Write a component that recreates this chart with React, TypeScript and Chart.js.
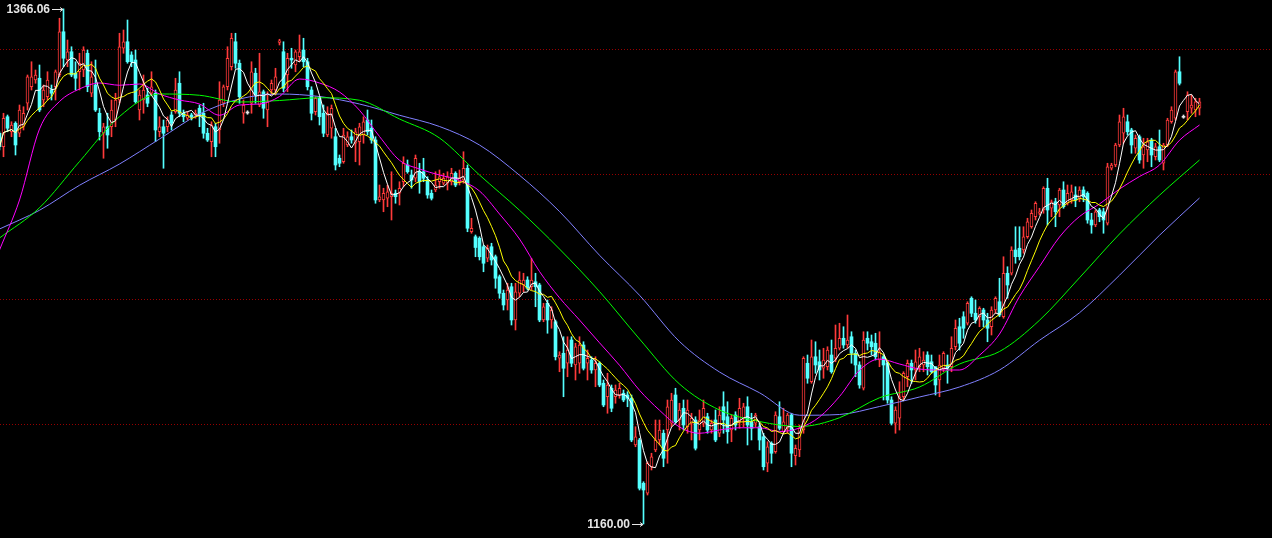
import React, { useEffect, useRef } from "react";
import { Chart, registerables } from "chart.js";

Chart.register(...registerables);

// ---- candle data (index 0..300) ----
const opens = [
  1316.3, 1310.9, 1322.9, 1316.9, 1320.3, 1316.3, 1319.0, 1328.3, 1334.9, 1337.6,
  1338.3, 1329.6, 1330.9, 1333.6, 1334.9, 1339.6, 1356.9, 1345.6, 1348.9, 1340.3,
  1340.9, 1341.6, 1348.3, 1332.3, 1335.6, 1324.3, 1316.3, 1318.9, 1318.9, 1321.6,
  1329.6, 1350.3, 1352.9, 1347.6, 1345.6, 1325.6, 1329.6, 1331.6, 1332.3, 1332.3,
  1316.9, 1318.9, 1318.9, 1323.6, 1324.9, 1336.3, 1324.3, 1322.3, 1323.6, 1323.6,
  1326.3, 1324.3, 1316.3, 1312.9, 1318.9, 1317.6, 1328.3, 1334.9, 1342.9, 1352.9,
  1344.3, 1324.3, 1324.6, 1328.3, 1340.3, 1327.6, 1332.9, 1325.6, 1333.6, 1333.6,
  1352.6, 1348.9, 1339.6, 1346.3, 1343.6, 1346.9, 1349.6, 1344.9, 1333.6, 1324.9,
  1330.3, 1324.3, 1315.6, 1318.3, 1314.9, 1306.3, 1304.9, 1311.6, 1314.9, 1312.3,
  1312.9, 1315.6, 1321.6, 1318.3, 1313.6, 1289.6, 1289.6, 1290.3, 1290.9, 1292.3,
  1292.3, 1296.9, 1303.6, 1299.6, 1298.3, 1300.9, 1300.9, 1297.6, 1292.3, 1293.6,
  1296.9, 1296.3, 1296.3, 1296.9, 1300.3, 1296.9, 1297.6, 1302.3, 1276.9, 1274.9,
  1274.3, 1270.9, 1266.3, 1270.9, 1266.9, 1258.9, 1252.3, 1249.6, 1254.9, 1241.6,
  1252.3, 1255.6, 1257.6, 1254.9, 1256.9, 1255.6, 1241.6, 1248.3, 1241.6, 1240.9,
  1226.3, 1228.3, 1224.3, 1233.6, 1223.6, 1224.3, 1231.6, 1224.3, 1225.6, 1221.6,
  1224.3, 1216.3, 1210.9, 1214.3, 1210.9, 1211.6, 1212.3, 1211.6, 1210.3, 1191.6,
  1193.6, 1176.3, 1172.3, 1182.9, 1189.6, 1193.6, 1196.3, 1197.6, 1200.3, 1211.6,
  1201.6, 1206.3, 1198.9, 1200.3, 1201.6, 1197.6, 1200.3, 1202.9, 1197.6, 1201.6,
  1196.3, 1206.9, 1202.9, 1197.6, 1203.6, 1200.9, 1202.3, 1206.9, 1200.9, 1200.3,
  1198.9, 1194.9, 1184.3, 1192.3, 1188.9, 1202.9, 1196.9, 1198.3, 1203.6, 1187.3,
  1189.6, 1197.6, 1224.3, 1216.9, 1226.9, 1224.9, 1222.3, 1222.9, 1227.6, 1226.3,
  1230.3, 1234.3, 1231.6, 1234.9, 1228.3, 1223.6, 1214.3, 1234.3, 1232.9, 1232.3,
  1225.6, 1226.9, 1224.3, 1209.6, 1200.3, 1202.3, 1210.9, 1218.9, 1224.3, 1221.6,
  1222.9, 1223.6, 1227.6, 1224.9, 1222.9, 1217.6, 1222.3, 1223.6, 1222.9, 1230.9,
  1238.9, 1242.9, 1240.3, 1250.3, 1244.3, 1242.9, 1245.6, 1241.6, 1238.9, 1245.6,
  1248.9, 1242.9, 1260.3, 1260.3, 1269.6, 1270.3, 1269.6, 1274.9, 1278.9, 1282.9,
  1284.3, 1285.6, 1294.3, 1286.3, 1288.9, 1287.6, 1293.6, 1288.3, 1289.6, 1291.6,
  1290.3, 1293.6, 1292.3, 1281.6, 1279.6, 1285.6, 1284.9, 1280.3, 1302.3, 1303.6,
  1311.6, 1316.3, 1320.9, 1317.6, 1310.3, 1314.9, 1307.6, 1309.6, 1313.6, 1306.9,
  1310.9, 1304.3, 1311.6, 1320.9, 1322.3, 1340.9, 1322.9, 1324.9, 1326.3, 1325.6,
  1326.3,
];

const highs = [
  1316.9, 1324.3, 1323.6, 1320.9, 1320.9, 1327.6, 1326.9, 1339.6, 1344.9, 1341.6,
  1343.6, 1335.6, 1340.9, 1335.6, 1341.6, 1362.3, 1366.06, 1353.6, 1350.9, 1344.9,
  1348.3, 1350.9, 1349.6, 1344.9, 1345.6, 1326.3, 1320.3, 1324.3, 1329.6, 1332.3,
  1356.3, 1357.6, 1361.6, 1348.9, 1349.6, 1333.6, 1339.6, 1334.3, 1340.9, 1333.6,
  1322.9, 1321.6, 1322.9, 1324.9, 1338.3, 1340.9, 1325.6, 1324.9, 1324.3, 1325.6,
  1327.6, 1328.3, 1318.3, 1320.9, 1320.3, 1336.9, 1335.6, 1350.9, 1356.3, 1356.3,
  1345.6, 1329.6, 1325.3, 1344.9, 1342.3, 1348.3, 1333.6, 1332.9, 1337.6, 1342.3,
  1353.9, 1352.9, 1348.3, 1350.3, 1349.6, 1355.6, 1354.3, 1346.3, 1334.9, 1330.9,
  1330.9, 1327.6, 1326.9, 1327.6, 1318.3, 1307.6, 1318.3, 1316.9, 1317.6, 1318.3,
  1320.3, 1322.9, 1325.6, 1321.6, 1314.9, 1295.6, 1294.3, 1295.6, 1300.9, 1293.6,
  1296.9, 1306.9, 1305.6, 1301.6, 1307.6, 1304.3, 1306.3, 1298.9, 1293.6, 1300.9,
  1301.6, 1300.3, 1300.9, 1302.3, 1300.9, 1301.6, 1308.9, 1303.6, 1282.3, 1275.6,
  1274.9, 1271.6, 1271.6, 1272.3, 1267.6, 1259.6, 1253.6, 1256.3, 1256.3, 1256.3,
  1260.9, 1260.3, 1258.9, 1266.3, 1260.3, 1256.3, 1248.3, 1249.6, 1246.9, 1241.6,
  1228.9, 1234.9, 1234.9, 1234.9, 1232.3, 1234.9, 1232.9, 1229.6, 1226.9, 1226.9,
  1224.9, 1217.6, 1220.3, 1215.6, 1215.6, 1216.3, 1213.6, 1212.9, 1211.6, 1198.9,
  1194.3, 1176.9, 1184.9, 1188.3, 1201.6, 1201.6, 1197.6, 1209.6, 1212.3, 1214.3,
  1208.3, 1209.6, 1209.6, 1204.3, 1202.9, 1205.6, 1209.6, 1204.3, 1201.6, 1205.6,
  1206.9, 1212.9, 1208.9, 1203.6, 1204.9, 1210.3, 1208.3, 1210.9, 1204.3, 1204.3,
  1200.3, 1196.3, 1192.9, 1192.9, 1204.9, 1208.9, 1206.3, 1204.3, 1204.3, 1191.6,
  1199.6, 1226.9, 1227.6, 1233.6, 1232.9, 1229.6, 1230.3, 1230.9, 1233.6, 1239.6,
  1240.3, 1238.9, 1243.6, 1236.9, 1229.6, 1224.9, 1236.9, 1236.9, 1235.6, 1236.3,
  1236.9, 1227.6, 1224.9, 1210.9, 1206.9, 1216.9, 1220.9, 1225.6, 1225.6, 1229.6,
  1230.3, 1228.9, 1228.9, 1227.6, 1222.9, 1227.6, 1228.9, 1227.6, 1234.9, 1241.6,
  1242.3, 1244.9, 1248.9, 1250.9, 1249.6, 1246.9, 1246.3, 1244.3, 1246.9, 1250.9,
  1258.3, 1266.9, 1262.9, 1270.9, 1278.9, 1278.9, 1278.9, 1282.3, 1285.6, 1288.9,
  1286.3, 1294.9, 1298.3, 1289.6, 1290.3, 1294.3, 1296.9, 1295.6, 1295.6, 1294.9,
  1294.9, 1294.9, 1292.9, 1284.3, 1285.6, 1286.3, 1286.3, 1304.3, 1304.3, 1312.3,
  1323.6, 1326.3, 1323.6, 1318.3, 1315.6, 1315.6, 1314.3, 1314.3, 1314.3, 1312.3,
  1317.6, 1312.3, 1322.3, 1326.9, 1341.6, 1346.9, 1323.6, 1332.9, 1331.6, 1330.3,
  1330.3,
];

const lows = [
  1309.6, 1306.9, 1316.9, 1314.9, 1307.6, 1314.9, 1317.6, 1325.6, 1333.6, 1336.3,
  1324.9, 1326.9, 1329.6, 1329.6, 1329.6, 1338.9, 1342.9, 1342.9, 1338.9, 1333.6,
  1333.6, 1338.9, 1332.9, 1330.9, 1325.0, 1313.6, 1306.3, 1310.3, 1314.9, 1318.9,
  1328.3, 1348.3, 1344.3, 1342.9, 1328.3, 1321.6, 1324.3, 1326.9, 1331.6, 1312.9,
  1314.9, 1302.3, 1316.9, 1317.6, 1324.3, 1322.9, 1320.9, 1321.6, 1321.6, 1322.3,
  1318.9, 1314.3, 1313.0, 1306.9, 1306.9, 1312.3, 1326.9, 1333.6, 1341.6, 1342.3,
  1328.3, 1320.3, 1323.9, 1324.3, 1328.3, 1326.9, 1322.3, 1318.9, 1331.6, 1331.6,
  1351.6, 1332.9, 1332.9, 1342.3, 1340.9, 1344.9, 1342.9, 1333.6, 1321.6, 1323.6,
  1319.6, 1314.9, 1314.9, 1314.3, 1301.6, 1302.9, 1304.3, 1310.9, 1312.3, 1304.9,
  1303.6, 1312.3, 1315.6, 1312.3, 1288.3, 1288.9, 1284.9, 1286.9, 1281.6, 1288.3,
  1287.6, 1294.9, 1300.3, 1294.3, 1296.9, 1292.3, 1296.9, 1290.3, 1289.6, 1292.9,
  1294.3, 1295.6, 1293.6, 1295.6, 1294.9, 1295.6, 1296.3, 1276.9, 1276.3, 1266.9,
  1265.6, 1260.9, 1264.9, 1263.6, 1254.3, 1250.3, 1245.6, 1245.6, 1239.6, 1237.6,
  1250.9, 1252.9, 1253.6, 1253.6, 1246.9, 1240.9, 1240.9, 1236.3, 1238.3, 1225.6,
  1220.9, 1210.9, 1218.9, 1222.9, 1217.6, 1220.3, 1221.6, 1217.6, 1220.3, 1214.9,
  1214.9, 1206.9, 1204.3, 1204.9, 1208.3, 1210.3, 1208.9, 1206.9, 1192.9, 1190.9,
  1173.6, 1160.0, 1171.6, 1181.6, 1188.9, 1191.6, 1182.9, 1184.3, 1198.9, 1200.3,
  1197.6, 1197.6, 1196.3, 1193.6, 1189.6, 1193.6, 1198.9, 1196.3, 1196.3, 1192.9,
  1194.9, 1196.3, 1192.3, 1192.9, 1197.6, 1198.3, 1198.9, 1191.6, 1193.6, 1198.9,
  1189.6, 1181.6, 1180.9, 1184.3, 1188.3, 1197.6, 1196.3, 1196.3, 1182.9, 1183.6,
  1186.9, 1196.3, 1216.3, 1216.3, 1220.3, 1217.6, 1218.3, 1221.6, 1220.3, 1224.9,
  1229.6, 1230.3, 1230.3, 1224.3, 1218.9, 1214.3, 1213.6, 1229.6, 1227.6, 1225.6,
  1222.9, 1209.6, 1208.3, 1199.6, 1196.3, 1197.6, 1209.6, 1214.9, 1216.3, 1217.6,
  1220.9, 1220.9, 1219.6, 1220.3, 1211.6, 1210.9, 1220.9, 1216.3, 1220.9, 1229.6,
  1229.6, 1234.3, 1239.6, 1242.9, 1240.3, 1238.9, 1238.9, 1232.9, 1235.6, 1244.3,
  1242.9, 1242.3, 1250.3, 1259.6, 1264.3, 1265.6, 1268.3, 1274.3, 1278.3, 1281.6,
  1283.6, 1284.3, 1279.6, 1282.9, 1278.9, 1282.9, 1286.3, 1287.6, 1288.3, 1286.9,
  1288.9, 1288.9, 1280.3, 1276.3, 1278.9, 1280.9, 1276.3, 1279.6, 1301.6, 1302.9,
  1310.9, 1312.3, 1315.6, 1308.3, 1308.3, 1304.3, 1302.3, 1304.9, 1302.9, 1305.6,
  1304.9, 1301.6, 1310.9, 1320.3, 1321.6, 1335.6, 1322.3, 1321.6, 1324.3, 1322.9,
  1323.6,
];

const closes = [
  1310.9, 1322.3, 1318.3, 1319.6, 1311.6, 1325.6, 1324.3, 1338.9, 1338.9, 1339.6,
  1325.6, 1333.6, 1337.6, 1332.3, 1340.9, 1356.9, 1346.3, 1348.9, 1339.6, 1338.3,
  1344.3, 1349.6, 1334.9, 1338.9, 1325.6, 1316.9, 1318.9, 1315.6, 1325.6, 1329.6,
  1350.9, 1352.9, 1344.9, 1344.9, 1328.9, 1331.6, 1333.6, 1328.3, 1334.9, 1317.6,
  1318.9, 1316.3, 1321.6, 1320.3, 1333.6, 1324.3, 1322.9, 1323.6, 1322.9, 1324.3,
  1323.6, 1316.3, 1313.6, 1319.6, 1310.9, 1329.6, 1334.9, 1346.3, 1354.3, 1344.3,
  1330.9, 1327.6, 1324.6, 1340.9, 1331.6, 1332.9, 1326.3, 1328.9, 1336.3, 1338.9,
  1353.3, 1334.3, 1346.3, 1345.6, 1348.9, 1348.9, 1344.9, 1334.9, 1324.3, 1330.3,
  1322.9, 1316.3, 1324.3, 1326.3, 1303.6, 1304.3, 1315.6, 1314.9, 1313.6, 1316.9,
  1318.9, 1320.9, 1316.9, 1313.6, 1289.6, 1290.9, 1292.3, 1292.9, 1292.3, 1290.9,
  1294.3, 1304.3, 1300.9, 1297.6, 1306.3, 1296.9, 1298.3, 1291.6, 1290.3, 1295.6,
  1298.9, 1298.3, 1298.9, 1300.3, 1295.6, 1298.3, 1302.3, 1278.3, 1278.3, 1270.6,
  1266.9, 1264.3, 1270.3, 1265.6, 1258.3, 1252.3, 1247.6, 1253.6, 1241.6, 1252.9,
  1257.6, 1257.6, 1254.3, 1257.6, 1254.9, 1241.6, 1246.9, 1241.6, 1245.6, 1226.9,
  1227.6, 1222.3, 1229.6, 1224.3, 1230.9, 1231.6, 1222.3, 1226.3, 1221.6, 1224.3,
  1215.6, 1207.6, 1215.6, 1206.3, 1213.6, 1214.3, 1209.6, 1210.3, 1193.6, 1194.9,
  1174.3, 1173.6, 1184.3, 1186.9, 1193.6, 1197.6, 1186.3, 1206.9, 1209.6, 1200.9,
  1205.6, 1199.6, 1205.6, 1202.3, 1190.3, 1201.6, 1206.3, 1197.6, 1200.3, 1193.6,
  1203.6, 1201.6, 1196.9, 1202.3, 1199.6, 1206.3, 1206.9, 1199.6, 1198.3, 1203.6,
  1193.6, 1182.9, 1190.9, 1188.3, 1203.6, 1198.3, 1200.9, 1203.6, 1188.3, 1190.3,
  1198.3, 1226.3, 1218.3, 1226.9, 1223.6, 1221.6, 1225.6, 1229.6, 1220.9, 1230.3,
  1234.3, 1231.6, 1233.6, 1228.3, 1223.6, 1215.6, 1233.6, 1232.3, 1230.9, 1226.9,
  1228.9, 1223.6, 1209.6, 1200.3, 1205.6, 1210.9, 1220.3, 1224.3, 1221.6, 1224.9,
  1226.9, 1225.6, 1222.9, 1220.9, 1215.6, 1223.6, 1228.3, 1222.3, 1230.3, 1238.3,
  1232.3, 1238.3, 1248.3, 1244.3, 1241.6, 1246.3, 1241.6, 1238.3, 1245.6, 1250.3,
  1243.6, 1260.3, 1255.6, 1269.6, 1266.9, 1266.9, 1274.9, 1280.9, 1284.3, 1288.3,
  1284.9, 1294.3, 1285.6, 1288.9, 1284.9, 1293.6, 1286.9, 1292.3, 1292.9, 1289.6,
  1293.6, 1290.9, 1281.6, 1279.6, 1284.9, 1282.9, 1281.6, 1302.9, 1303.6, 1311.6,
  1320.9, 1322.9, 1316.9, 1311.6, 1314.3, 1305.6, 1310.9, 1312.9, 1307.6, 1310.9,
  1305.6, 1311.6, 1321.6, 1325.6, 1340.9, 1336.3, 1322.9, 1331.6, 1327.6, 1328.9,
  1328.9,
];

// ---- slower moving averages ----
const ma20Index = [
  0, 5, 10, 15, 20, 25, 30, 35, 40, 45, 50, 55, 60, 65, 70, 75, 80, 85, 90, 95,
  100, 105, 110, 115, 120, 125, 130, 135, 140, 145, 150, 155, 160, 165, 170, 175,
  180, 185, 190, 195, 200, 205, 210, 215, 220, 225, 230, 235, 240, 245, 250, 255,
  260, 265, 270, 275, 280, 285, 290, 295, 300,
];
const ma20Values = [
  1269.6, 1289.6, 1318.0, 1329.0, 1334.0, 1336.4, 1335.5, 1336.0, 1332.0, 1329.6,
  1328.0, 1323.5, 1327.6, 1328.0, 1331.0, 1338.0, 1336.4, 1332.8, 1325.5, 1315.0,
  1305.5, 1302.0, 1299.6, 1297.5, 1293.2, 1284.0, 1274.0, 1261.0, 1250.5, 1241.6,
  1232.5, 1223.5, 1213.5, 1205.5, 1198.8, 1196.3, 1197.6, 1198.5, 1198.5, 1197.0,
  1198.4, 1202.8, 1211.0, 1221.5, 1226.0, 1224.0, 1222.0, 1221.6, 1221.6, 1227.5,
  1236.0, 1251.0, 1263.0, 1274.8, 1283.0, 1288.0, 1294.0, 1299.0, 1303.6, 1313.5,
  1319.6,
];
const slowIndex = [
  0, 10, 20, 30, 40, 50, 60, 70, 80, 90, 100, 110, 120, 130, 140, 150, 160, 170,
  180, 190, 200, 210, 220, 230, 240, 250, 260, 270, 280, 290, 300,
];
const ma30Values = [
  1274.4, 1286.5, 1305.0, 1323.0, 1332.0, 1331.5, 1328.8, 1329.4, 1330.5, 1329.5,
  1322.0, 1314.4, 1299.6, 1285.5, 1270.0, 1253.0, 1234.0, 1216.0, 1205.6, 1201.0,
  1199.0, 1202.5, 1210.5, 1214.8, 1224.0, 1229.0, 1241.5, 1258.5, 1276.0, 1291.5,
  1305.6,
];
const ma60Values = [
  1278.0, 1285.5, 1295.5, 1304.0, 1314.0, 1324.0, 1330.0, 1332.0, 1331.0, 1328.0,
  1323.5, 1319.0, 1311.6, 1299.5, 1285.0, 1267.5, 1251.5, 1233.0, 1220.8, 1212.5,
  1203.5, 1203.8, 1207.0, 1210.8, 1214.8, 1221.6, 1233.5, 1244.5, 1259.5, 1275.5,
  1290.4,
];

const gridValues = [1200, 1250, 1300, 1350];

const UP = "rgb(255,58,58)";
const DOWN = "rgb(84,255,255)";
const FLAT = "rgb(230,230,230)";

function movingAverage(values: number[], n: number): number[] {
  return values.map((_, i) => {
    const start = Math.max(0, i - n + 1);
    let s = 0;
    for (let k = start; k <= i; k++) s += values[k];
    return s / (i - start + 1);
  });
}

export default function App() {
  const ref = useRef<HTMLCanvasElement>(null);

  useEffect(() => {
    document.body.style.margin = "0";
    document.body.style.background = "#000";
    const canvas = ref.current;
    if (!canvas) return;

    const idx = opens.map((_, i) => i);
    const colorOf = (i: number) =>
      closes[i] > opens[i] ? UP : closes[i] < opens[i] ? DOWN : FLAT;

    const wickData = idx.map((i) => ({ x: i, y: [lows[i], highs[i]] }));
    const bodyData = idx.map((i) => {
      const lo = Math.min(opens[i], closes[i]);
      const hi = Math.max(opens[i], closes[i]);
      if (hi - lo < 0.4) {
        const m = (hi + lo) / 2;
        return { x: i, y: [m - 0.2, m + 0.2] };
      }
      return { x: i, y: [lo, hi] };
    });

    const ma5 = movingAverage(closes, 5);
    const ma10 = movingAverage(closes, 10);

    const lineDs = (label: string, xs: number[], ys: number[], color: string, smooth: boolean, order: number) => ({
      type: "line" as const,
      label,
      data: ys.map((v, k) => ({ x: xs[k], y: v })),
      borderColor: color,
      borderWidth: 1,
      pointRadius: 0,
      fill: false,
      cubicInterpolationMode: smooth ? ("monotone" as const) : ("default" as const),
      tension: 0,
      order,
    });

    const gridPlugin = {
      id: "gridLines",
      beforeDatasetsDraw(chart: any) {
        const { ctx, chartArea, scales } = chart;
        ctx.save();
        ctx.strokeStyle = "rgb(150,0,0)";
        ctx.lineWidth = 1;
        ctx.setLineDash([1, 2]);
        for (const v of gridValues) {
          const y = Math.round(scales.y.getPixelForValue(v)) + 0.5;
          ctx.beginPath();
          ctx.moveTo(chartArea.left, y);
          ctx.lineTo(chartArea.right, y);
          ctx.stroke();
        }
        ctx.restore();
      },
    };

    const markPlugin = {
      id: "extremeMarks",
      afterDraw(chart: any) {
        const { ctx, scales } = chart;
        let hiI = 0;
        let loI = 0;
        highs.forEach((h, i) => {
          if (h > highs[hiI]) hiI = i;
        });
        lows.forEach((l, i) => {
          if (l < lows[loI]) loI = i;
        });
        const mark = (i: number, v: number) => {
          const px = Math.round(scales.x.getPixelForValue(i));
          const py = Math.round(scales.y.getPixelForValue(v)) + 0.5;
          ctx.save();
          ctx.strokeStyle = "rgb(230,230,230)";
          ctx.fillStyle = "rgb(230,230,230)";
          ctx.lineWidth = 1;
          ctx.beginPath();
          ctx.moveTo(px - 12, py);
          ctx.lineTo(px - 1, py);
          ctx.moveTo(px - 4, py - 2);
          ctx.lineTo(px - 1, py);
          ctx.lineTo(px - 4, py + 2);
          ctx.stroke();
          ctx.font = 'bold 12px "Liberation Sans", Arial, sans-serif';
          ctx.textAlign = "right";
          ctx.textBaseline = "middle";
          ctx.fillText(v.toFixed(2), px - 14, py);
          ctx.restore();
        };
        mark(hiI, highs[hiI]);
        mark(loI, lows[loI]);
      },
    };

    const chart = new Chart(canvas, {
      type: "bar",
      data: {
        datasets: [
          lineDs("MA5", idx, ma5, "#ffffff", false, 0),
          lineDs("MA10", idx, ma10, "#ffff00", false, 0),
          lineDs("MA20", ma20Index, ma20Values, "#ff00ff", true, 0),
          lineDs("MA30", slowIndex, ma30Values, "#00ff00", true, 0),
          lineDs("MA60", slowIndex, ma60Values, "#8080ff", true, 0),
          {
            type: "bar",
            label: "body",
            data: bodyData as any,
            backgroundColor: (c: any) => (colorOf(c.dataIndex) === UP ? "#000000" : colorOf(c.dataIndex)),
            borderColor: (c: any) => colorOf(c.dataIndex),
            borderWidth: (c: any) => (colorOf(c.dataIndex) === UP ? 1 : 0),
            borderSkipped: false,
            barThickness: 3,
            grouped: false,
            order: 1,
          } as any,
          {
            type: "bar",
            label: "wick",
            data: wickData as any,
            backgroundColor: (c: any) => colorOf(c.dataIndex),
            borderWidth: 0,
            barThickness: 1,
            grouped: false,
            order: 2,
          } as any,
        ],
      },
      options: {
        responsive: false,
        animation: false,
        devicePixelRatio: 1,
        events: [],
        layout: { padding: 0 },
        plugins: { legend: { display: false }, tooltip: { enabled: false } },
        scales: {
          x: { type: "linear", display: false, min: 0.125, max: 318.125, offset: false },
          y: { type: "linear", display: false, min: 1154.4, max: 1369.6 },
        },
      },
      plugins: [gridPlugin, markPlugin],
    } as any);

    return () => chart.destroy();
  }, []);

  return (
    <div style={{ position: "fixed", left: 0, top: 0, width: 1272, height: 538, background: "#000" }}>
      <canvas ref={ref} width={1272} height={538} style={{ display: "block", width: 1272, height: 538 }} />
    </div>
  );
}
